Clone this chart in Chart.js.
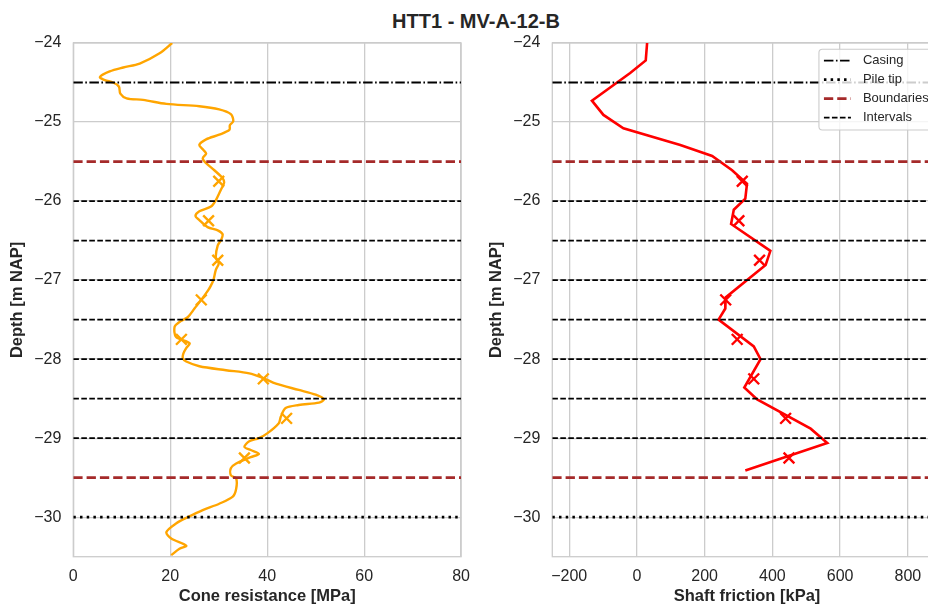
<!DOCTYPE html>
<html>
<head>
<meta charset="utf-8">
<script src="https://cdn.jsdelivr.net/npm/chart.js@4.4.1/dist/chart.umd.min.js"></script>
<style>
  html, body { margin: 0; padding: 0; width: 928px; height: 606px; overflow: hidden; background: #ffffff; }
  #title { position: absolute; left: 0; top: 10px; width: 952px; line-height: 20px; text-align: center;
           font: bold 20px "Liberation Sans", Arial, sans-serif; color: #262626; }
  #cone { position: absolute; left: 0; top: 0; }
  #shaft { position: absolute; left: 479px; top: 0; }
</style>
</head>
<body>
<div id="title">HTT1 - MV-A-12-B</div>
<canvas id="cone" width="480" height="606"></canvas>
<canvas id="shaft" width="480" height="606"></canvas>
<script>
// ---- CPT profile: cone resistance qc [MPa] against depth [m NAP] ----
const coneDepth = [-24.00, -24.13, -24.26, -24.31, -24.36, -24.43, -24.47, -24.50, -24.55, -24.64,
  -24.70, -24.72, -24.77, -24.80, -24.84, -24.90, -24.99, -25.04, -25.10, -25.16,
  -25.22, -25.29, -25.35, -25.40, -25.46, -25.52, -25.61, -25.71, -25.77, -25.85,
  -25.99, -26.07, -26.13, -26.19, -26.24, -26.33, -26.37, -26.42, -26.49, -26.56,
  -26.71, -26.79, -26.87, -27.00, -27.08, -27.13, -27.25, -27.36, -27.47, -27.53,
  -27.59, -27.72, -27.80, -27.86, -27.93, -27.99, -28.03, -28.09, -28.14, -28.18,
  -28.24, -28.31, -28.39, -28.45, -28.51, -28.55, -28.58, -28.62, -28.73, -28.81,
  -28.94, -29.00, -29.04, -29.11, -29.15, -29.20, -29.24, -29.32, -29.38, -29.47,
  -29.51, -29.64, -29.74, -29.83, -29.91, -30.00, -30.08, -30.19, -30.27, -30.36,
  -30.40, -30.48];
const coneQc = [20.4, 17.8, 13.7, 10.3, 7.5, 5.5, 6.5, 8.2, 9.4, 9.7,
  11.0, 14.4, 19.2, 26.0, 30.1, 32.5, 33.0, 32.3, 32.2, 30.1,
  27.4, 26.0, 26.8, 27.4, 26.7, 27.4, 29.1, 30.8, 31.1, 30.5,
  29.4, 28.4, 26.0, 25.2, 26.0, 27.7, 29.8, 30.8, 30.5, 29.8,
  29.4, 30.0, 29.4, 28.9, 28.3, 27.8, 26.4, 25.0, 23.6, 21.9,
  20.9, 21.2, 24.0, 23.3, 22.7, 22.6, 23.3, 26.0, 31.5, 36.3,
  39.2, 41.8, 46.5, 50.0, 51.7, 50.7, 46.5, 43.8, 42.8, 42.4,
  40.0, 38.3, 36.3, 35.3, 36.6, 38.3, 36.6, 33.6, 32.5, 32.5,
  33.6, 33.6, 32.9, 30.1, 26.7, 23.6, 21.2, 19.2, 20.2, 23.3,
  21.9, 20.2];

// ---- back-calculated shaft friction [kPa] against depth ----
const shaftDepth = [-24.00, -24.22, -24.38, -24.73, -24.91, -25.08, -25.29, -25.43, -25.61, -25.78,
  -25.97, -26.11, -26.29, -26.63, -26.81, -27.22, -27.36, -27.50, -27.84, -28.00,
  -28.36, -28.51, -28.88, -29.06, -29.41];
const shaftFs = [30, 26, -20, -133, -99, -40, 128, 222, 281, 325,
  320, 286, 278, 394, 380, 262, 261, 241, 345, 365,
  317, 355, 513, 562, 320];

// ---- interval mid-point values (crosses) ----
const midDepth = [-25.75, -26.25, -26.75, -27.25, -27.75, -28.25, -28.75, -29.25];
const midQc = [30.0, 27.9, 29.8, 26.4, 22.3, 39.2, 44.0, 35.3];
const midFs = [311, 301, 362, 262, 296, 345, 439, 449];

// ---- reference levels [m NAP] ----
const casingDepth = [-24.5];
const pileTipDepth = [-30.0];
const boundaryDepth = [-25.5, -29.5];
const intervalDepth = [-26.0, -26.5, -27.0, -27.5, -28.0, -28.5, -29.0];

// ---- axis ranges and tick labels ----
const depthRange = [-30.5, -24];
const depthTicks = [-24, -25, -26, -27, -28, -29, -30];
const coneRange = [0, 80];
const coneTicks = [0, 20, 40, 60, 80];
const shaftRange = [-250, 900];
const shaftTicks = [-200, 0, 200, 400, 600, 800];

const FONT = "'Liberation Sans', Arial, sans-serif";
const TEXT = '#262626';
const GRID = '#cccccc';

const levelStyles = [
  { label: 'Casing', depths: casingDepth, color: '#000000', width: 1.8, dash: [9.5, 2.5, 1.6, 2.5] },
  { label: 'Pile tip', depths: pileTipDepth, color: '#000000', width: 2.7, dash: [2.5, 4.2] },
  { label: 'Boundaries', depths: boundaryDepth, color: '#a52a2a', width: 2.7, dash: [9.3, 4.0] },
  { label: 'Intervals', depths: intervalDepth, color: '#000000', width: 1.8, dash: [5.6, 2.4] }
];

const minusSign = v => String(v).replace('-', '\u2212');

function levelDatasets(xr) {
  const out = [];
  levelStyles.forEach(s => {
    s.depths.forEach(d => {
      out.push({
        type: 'scatter', showLine: true, legendLabel: s.label, order: 0,
        data: [{ x: xr[0], y: d }, { x: xr[1], y: d }],
        borderColor: s.color, borderWidth: s.width, borderDash: s.dash,
        pointRadius: 0, fill: false
      });
    });
  });
  return out;
}

// light grey box round the plot area
const framePlugin = {
  id: 'plotFrame',
  beforeDatasetsDraw(chart) {
    const { ctx, chartArea: a } = chart;
    ctx.save();
    ctx.strokeStyle = GRID;
    ctx.lineWidth = 1.3;
    ctx.strokeRect(a.left, a.top, a.right - a.left, a.bottom - a.top);
    ctx.restore();
  }
};

// framed legend in the upper right of the plot, built from the level datasets
const levelLegend = {
  id: 'levelLegend',
  afterDatasetsDraw(chart, args, opts) {
    if (!opts.show) return;
    const { ctx, chartArea: a } = chart;
    const items = [];
    const seen = new Set();
    chart.data.datasets.forEach(ds => {
      if (ds.legendLabel && !seen.has(ds.legendLabel)) { seen.add(ds.legendLabel); items.push(ds); }
    });
    ctx.save();
    ctx.font = '13px ' + FONT;
    const textW = Math.max(...items.map(d => ctx.measureText(d.legendLabel).width));
    const rowH = 19, padL = 5, sampleW = 27, gap = 12, padR = 6;
    const w = padL + sampleW + gap + textW + padR;
    const h = items.length * rowH + 4.7;
    const right = a.right - 7;
    const top = a.top + 6.3;
    const left = right - w;
    const r = 3.5;
    ctx.beginPath();
    ctx.moveTo(left + r, top);
    ctx.lineTo(right - r, top); ctx.arcTo(right, top, right, top + r, r);
    ctx.lineTo(right, top + h - r); ctx.arcTo(right, top + h, right - r, top + h, r);
    ctx.lineTo(left + r, top + h); ctx.arcTo(left, top + h, left, top + h - r, r);
    ctx.lineTo(left, top + r); ctx.arcTo(left, top, left + r, top, r);
    ctx.closePath();
    ctx.fillStyle = 'rgba(255,255,255,0.8)';
    ctx.fill();
    ctx.strokeStyle = GRID;
    ctx.lineWidth = 1.1;
    ctx.stroke();
    items.forEach((ds, i) => {
      const cy = top + 11.4 + i * rowH;
      ctx.beginPath();
      ctx.setLineDash(ds.borderDash);
      ctx.lineCap = 'butt';
      ctx.strokeStyle = ds.borderColor;
      ctx.lineWidth = ds.borderWidth;
      ctx.moveTo(left + padL, cy);
      ctx.lineTo(left + padL + sampleW, cy);
      ctx.stroke();
      ctx.setLineDash([]);
      ctx.fillStyle = TEXT;
      ctx.textBaseline = 'middle';
      ctx.textAlign = 'left';
      ctx.fillText(ds.legendLabel, left + padL + sampleW + gap, cy);
    });
    ctx.restore();
  }
};

function makePanel(canvasId, cfg) {
  const curve = cfg.depth.map((d, i) => ({ x: cfg.values[i], y: d }));
  const marks = midDepth.map((d, i) => ({ x: cfg.mids[i], y: d }));
  const datasets = levelDatasets(cfg.range).concat([
    {
      type: 'scatter', showLine: true, order: 1, data: curve,
      borderColor: cfg.color, borderWidth: cfg.lineWidth, tension: cfg.tension,
      pointRadius: 0, fill: false
    },
    {
      type: 'scatter', showLine: false, order: 0, data: marks,
      pointStyle: 'crossRot', pointRadius: 7.6, borderWidth: 2.4,
      borderColor: cfg.color, backgroundColor: cfg.color
    }
  ]);
  return new Chart(document.getElementById(canvasId), {
    type: 'scatter',
    data: { datasets },
    plugins: [framePlugin, levelLegend],
    options: {
      responsive: false,
      animation: false,
      events: [],
      layout: { padding: { left: 0, right: 17.3, top: 43, bottom: 0 } },
      plugins: {
        legend: { display: false },
        tooltip: { enabled: false },
        levelLegend: { show: cfg.legend }
      },
      scales: {
        x: {
          type: 'linear', position: 'bottom', min: cfg.range[0], max: cfg.range[1],
          afterBuildTicks: ax => { ax.ticks = cfg.ticks.map(v => ({ value: v })); },
          afterFit: ax => { ax.height = 49.3; },
          grid: { color: GRID, lineWidth: 1.3, drawTicks: false },
          border: { display: false },
          ticks: { padding: 10, color: TEXT, font: { family: FONT, size: 16 }, callback: minusSign, maxRotation: 0 },
          title: { display: true, text: cfg.title, color: TEXT,
                   font: { family: FONT, size: 16.5, weight: 'bold' }, padding: { top: 0, bottom: 0 } }
        },
        y: {
          type: 'linear', position: 'left', min: depthRange[0], max: depthRange[1],
          afterBuildTicks: ax => { ax.ticks = depthTicks.map(v => ({ value: v })); },
          afterFit: ax => { ax.width = 73.3; },
          grid: { color: GRID, lineWidth: 1.3, drawTicks: false },
          border: { display: false },
          ticks: { padding: 12, color: TEXT, font: { family: FONT, size: 16 }, callback: minusSign },
          title: { display: true, text: 'Depth [m NAP]', color: TEXT,
                   font: { family: FONT, size: 16.5, weight: 'bold' }, padding: { top: 8, bottom: 0 } }
        }
      }
    }
  });
}

makePanel('cone', {
  depth: coneDepth, values: coneQc, mids: midQc, range: coneRange, ticks: coneTicks,
  color: '#ffa500', lineWidth: 2.4, tension: 0.3, title: 'Cone resistance [MPa]', legend: false
});
makePanel('shaft', {
  depth: shaftDepth, values: shaftFs, mids: midFs, range: shaftRange, ticks: shaftTicks,
  color: '#ff0000', lineWidth: 2.6, tension: 0, title: 'Shaft friction [kPa]', legend: true
});
</script>
</body>
</html>
